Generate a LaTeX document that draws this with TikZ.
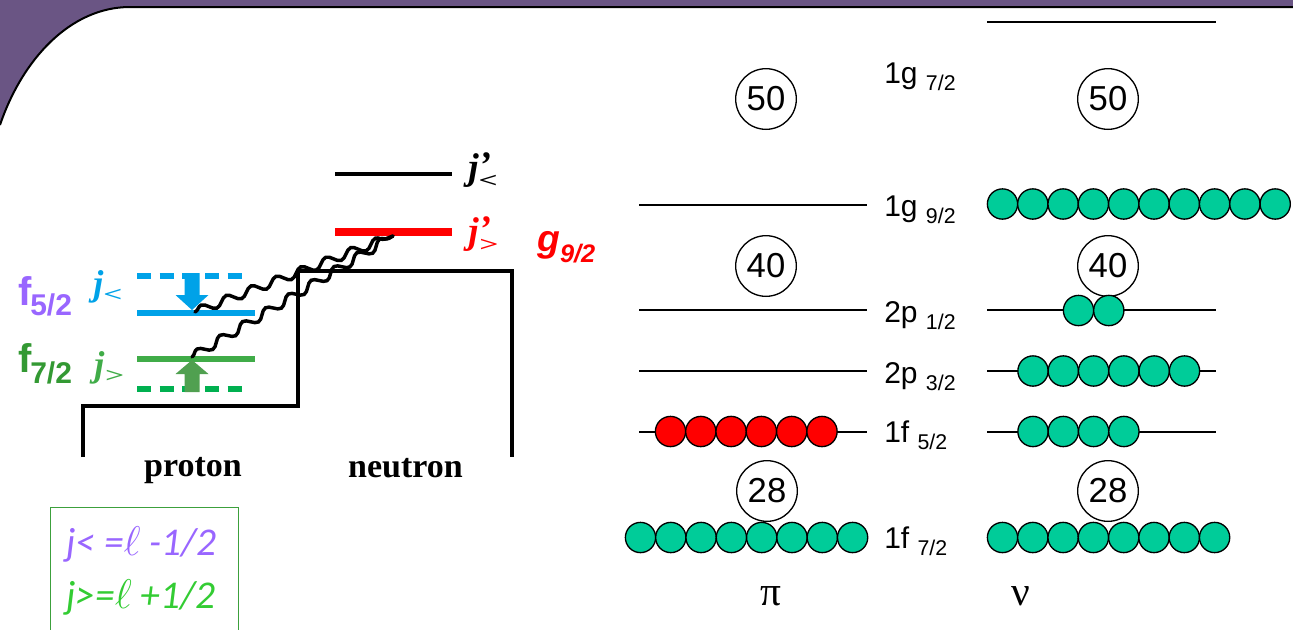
\documentclass[tikz,border=0pt]{standalone}
\usepackage{fontspec}
\usepackage{graphicx}
\setmainfont{Liberation Sans}
\newfontfamily\tnr{Liberation Serif}
\newfontfamily\calfont{Carlito}
\usetikzlibrary{decorations.pathmorphing}
\definecolor{frame}{RGB}{106,85,132}
\definecolor{pgreen}{RGB}{0,204,153}
\definecolor{jblue}{RGB}{0,162,232}
\definecolor{jgreen}{RGB}{64,172,72}
\definecolor{jgreend}{RGB}{0,176,80}
\definecolor{arrgreen}{RGB}{80,160,80}
\definecolor{fpurple}{RGB}{153,102,255}
\definecolor{fgreen}{RGB}{51,153,51}
\definecolor{boxgreen}{RGB}{60,160,60}
\definecolor{lgreen}{RGB}{51,204,51}
\tikzset{
  lvl/.style={line width=1.3pt},
  magic/.style={draw, circle, fill=white, line width=1pt, minimum size=45.5pt, inner sep=0pt, font=\fontsize{26}{26}\selectfont},
  part/.style={draw, circle, line width=1pt, minimum size=22.7pt, inner sep=0pt},
  nu/.style={part, fill=pgreen},
  pr/.style={part, fill=red},
  lab/.style={anchor=base west, inner sep=0pt, font=\fontsize{22.5}{24}\selectfont},
  jlab/.style={anchor=base west, inner sep=0pt, font=\tnr\bfseries\itshape\fontsize{28}{28}\selectfont},
  flab/.style={anchor=base west, inner sep=0pt, font=\bfseries\fontsize{30}{30}\selectfont},
  well/.style={line width=3.2pt},
  wavy/.style={line width=2.6pt, line cap=round, decorate, decoration={snake, segment length=20pt, amplitude=3.2pt}},
  pn/.style={anchor=base, inner sep=0pt, font=\tnr\bfseries\fontsize{25.5}{26}\selectfont},
  greek/.style={anchor=base, inner sep=0pt, font=\tnr\fontsize{31}{31}\selectfont},
  rule/.style={anchor=base west, inner sep=0pt, font=\calfont\itshape\fontsize{29.5}{30}\selectfont}
}
\newcommand\subf{\fontsize{16}{16}\selectfont}
\newcommand\jsub[1]{{\fontsize{21}{21}\selectfont\scalebox{1.2}[0.75]{#1}}}
\newcommand\myell{\scalebox{1.25}{$\ell$}}
\begin{document}
\begin{tikzpicture}[x=0.75pt,y=-0.75pt]
\useasboundingbox (0,0) rectangle (1293,629);
% frame
\fill[frame] (0,0) rectangle (1293,629);
\fill[white] (0,640) -- (0,125) .. controls (22,60) and (70,7) .. (130,7) -- (1300,7) -- (1300,640) -- cycle;
\draw[line width=1.5pt] (0,125) .. controls (22,60) and (70,7) .. (130,7) -- (1300,7);

% ---------- left diagram ----------
\draw[well] (83,457) -- (83,406) -- (298,406) -- (298,271) -- (512,271) -- (512,457);
\node[pn] (proton) at (193,476) {proton};
\node[pn] (neutron) at (405.5,477) {neutron};

% neutron levels
\draw[line width=3.4pt] (335,174) -- (452,174);
\draw[line width=6pt, red] (335,232) -- (452,232);
\node[jlab] (jpl) at (468,179) {j\rlap{\raisebox{1pt}{’}}\raisebox{-6pt}{\jsub{<}}};
\node[jlab, text=red] (jpg) at (468,243) {j\rlap{\raisebox{1pt}{’}}\raisebox{-6pt}{\jsub{>}}};
\node[anchor=base west, inner sep=0pt, text=red, font=\bfseries\itshape\fontsize{28}{28}\selectfont] (g92) at (537,251) {g\raisebox{-8.25pt}{\fontsize{19}{19}\selectfont 9/2}};

% proton levels
\draw[line width=4.5pt, jblue, dash pattern=on 10.5pt off 6.5pt] (137,276) -- (248,276);
\draw[line width=5.2pt, jblue] (137,313) -- (255,313);
\fill[jblue] (184.5,273) -- (199.5,273) -- (199.5,295) -- (208.5,295) -- (192,310) -- (175.5,295) -- (184.5,295) -- cycle;
\draw[line width=5.2pt, jgreen] (137,359) -- (255,359);
\draw[line width=4.5pt, jgreend, dash pattern=on 10.5pt off 6.5pt] (137,389) -- (248,389);
\fill[arrgreen] (192,360) -- (208.5,374) -- (199.5,374) -- (199.5,392) -- (184.5,392) -- (184.5,374) -- (175.5,374) -- cycle;
\node[jlab, text=jblue, font=\tnr\bfseries\itshape\fontsize{27}{27}\selectfont] (jl) at (93,295) {j\raisebox{-5pt}{\jsub{<}}};
\node[jlab, text=jgreen, font=\tnr\bfseries\itshape\fontsize{27}{27}\selectfont] (jg) at (94,376) {j\raisebox{-5pt}{\jsub{>}}};
\node[flab, text=fpurple] (f52) at (18,305) {f\kern-1pt\raisebox{-7.5pt}{\fontsize{22.5}{22}\selectfont 5/2}};
\node[flab, text=fgreen] (f72) at (18,372) {f\kern-1pt\raisebox{-8.25pt}{\fontsize{22.5}{22}\selectfont 7/2}};

% wavy couplings
\coordinate (s1a) at (195,312);
\coordinate (s2a) at (192,357);
\coordinate (send) at (393,236);
\draw[wavy] (s1a) -- (send);
\draw[wavy] (s2a) -- (send);

% rule box
\node[draw=boxgreen, line width=1.1pt, minimum width=141pt, minimum height=100pt, anchor=north west, inner sep=0pt] (box) at (50,507) {};
\node[rule, text=fpurple] (r1) at (66,555) {j< =\myell\ -1/2};
\node[rule, text=lgreen] (r2) at (66,608) {j>=\myell\ +1/2};

% ---------- right diagram ----------
% level lines
\draw[lvl] (987,22) -- (1216,22);
\draw[lvl] (639,205) -- (867,205);
\draw[lvl] (639,310) -- (867,310);
\draw[lvl] (987,310) -- (1216,310);
\draw[lvl] (639,371) -- (867,371);
\draw[lvl] (987,371) -- (1216,371);
\draw[lvl] (639,432) -- (867,432);
\draw[lvl] (987,432) -- (1216,432);

% magic numbers
\node[magic] (m50p) at (766,99) {50};
\node[magic] (m50n) at (1108,99) {50};
\node[magic] (m40p) at (766,266) {40};
\node[magic] (m40n) at (1108,266) {40};
\node[magic] (m28p) at (767,491) {28};
\node[magic] (m28n) at (1108,491) {28};

% particles
\foreach \i in {0,...,9} \node[nu] (ng\i) at ({1002.5+30.3*\i},204) {};
\foreach \i in {0,1} \node[nu] (np\i) at ({1078.5+30.3*\i},310.5) {};
\foreach \i in {0,...,5} \node[nu] (nq\i) at ({1033+30.3*\i},371) {};
\foreach \i in {0,...,3} \node[nu] (nf\i) at ({1033+30.3*\i},431.5) {};
\foreach \i in {0,...,5} \node[pr] (pf\i) at ({670.5+30.3*\i},431.5) {};
\foreach \i in {0,...,7} \node[nu] (ps\i) at ({640.5+30.3*\i},537.5) {};
\foreach \i in {0,...,7} \node[nu] (ns\i) at ({1002.5+30.3*\i},537.5) {};

% orbit labels
\node[lab] (l1) at (884,83) {1g \raisebox{-5.25pt}{\subf 7/2}};
\node[lab] (l2) at (884,216) {1g \raisebox{-5.25pt}{\subf 9/2}};
\node[lab] (l3) at (884,322) {2p \raisebox{-5.25pt}{\subf 1/2}};
\node[lab] (l4) at (884,383) {2p \raisebox{-5.25pt}{\subf 3/2}};
\node[lab] (l5) at (884,442) {1f \raisebox{-5.25pt}{\subf 5/2}};
\node[lab] (l6) at (884,548) {1f \raisebox{-5.25pt}{\subf 7/2}};

\node[greek] (pi) at (771,605) {π};
\node[greek] (nu) at (1021,605) {ν};
\end{tikzpicture}
\end{document}
